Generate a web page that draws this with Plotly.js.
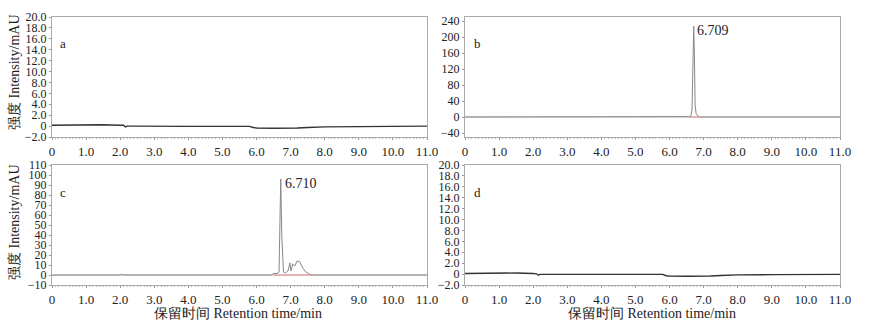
<!DOCTYPE html>
<html>
<head>
<meta charset="utf-8">
<script src="https://cdn.plot.ly/plotly-3.0.1.min.js"></script>
<style>html,body{margin:0;padding:0;background:#fff;}#chart{width:874px;height:332px;}</style>
</head>
<body>
<div id="chart"></div>
<script>
// ---- data ----
const timeA = [0, 0.5, 1.0, 1.5, 2.0, 2.1, 2.15, 2.2, 2.5, 3.0, 4.0, 5.0, 5.8, 5.9, 6.0, 6.5, 7.0, 7.2, 7.5, 8.0, 9.0, 10.0, 11.0];
const intensityA = [0.15, 0.2, 0.25, 0.25, 0.15, 0.15, -0.15, 0.0, 0.0, -0.05, -0.05, -0.05, -0.05, -0.25, -0.35, -0.4, -0.4, -0.35, -0.25, -0.15, -0.1, -0.05, 0.0];

const timeB = [0, 6.55, 6.62, 6.66, 6.69, 6.709, 6.73, 6.75, 6.78, 6.82, 6.86, 11.0];
const intensityB = [0, 0, 1, 20, 150, 227, 150, 30, 8, 3, 0, 0];
const baseTimeB = [6.6, 6.86];
const baseValB = [0, 0];

const timeC = [0, 2.0, 2.05, 2.1, 6.45, 6.49, 6.6, 6.66, 6.69, 6.71, 6.74, 6.79, 6.85, 6.92, 6.98, 7.01, 7.06, 7.12, 7.19, 7.27, 7.34, 7.43, 7.56, 7.6, 11.0];
const intensityC = [0, 0, 0.8, 0, 0, 1.5, 1.5, 3, 60, 96, 40, 3, 2, 4, 12, 4, 11, 9, 14, 13, 8, 3.5, 0.7, 0, 0];
const baseTimeC = [6.49, 7.6];
const baseValC = [0, 0];

const timeD = [0, 0.5, 1.0, 1.5, 2.0, 2.1, 2.15, 2.2, 2.5, 3.0, 4.0, 5.0, 5.8, 5.9, 6.0, 6.5, 7.0, 7.2, 7.5, 8.0, 9.0, 10.0, 11.0];
const intensityD = [0.1, 0.15, 0.2, 0.2, 0.1, 0.05, -0.2, -0.05, -0.05, -0.05, -0.05, -0.05, -0.05, -0.3, -0.35, -0.4, -0.4, -0.35, -0.25, -0.15, -0.1, -0.05, -0.05];

const xTickVals = [0, 1, 2, 3, 4, 5, 6, 7, 8, 9, 10, 11];
const xTickText = ["0", "1.0", "2.0", "3.0", "4.0", "5.0", "6.0", "7.0", "8.0", "9.0", "10.0", "11.0"];
const ySmallVals = [-2, 0, 2, 4, 6, 8, 10, 12, 14, 16, 18, 20];
const ySmallText = ["\u22122.0", "0", "2.0", "4.0", "6.0", "8.0", "10.0", "12.0", "14.0", "16.0", "18.0", "20.0"];
const yBVals = [-40, 0, 40, 80, 120, 160, 200, 240];
const yBText = ["\u221240", "0", "40", "80", "120", "160", "200", "240"];
const yCVals = [-10, 0, 10, 20, 30, 40, 50, 60, 70, 80, 90, 100, 110];
const yCText = ["\u221210", "0", "10", "20", "30", "40", "50", "60", "70", "80", "90", "100", "110"];

const panelLabels = ["a", "b", "c", "d"];
const peakLabelB = "6.709";
const peakLabelC = "6.710";
const yTitle = "强度 Intensity/mAU";
const xTitle = "保留时间 Retention time/min";

// ---- layout ----
const W = 874, H = 332;
const FONT = "'Liberation Serif', 'Times New Roman', serif";
const xTickFont = {family: FONT, size: 13, color: "#222"};
const yTickFont = {family: FONT, size: 12, color: "#222"};
const colL = [52 / W, 427 / W];
const colR = [465 / W, 840 / W];
const rowT = [1 - 137 / H, 1 - 17 / H];
const rowB = [1 - 285 / H, 1 - 165 / H];

function xa(dom, anchor) {
  return {domain: dom, anchor: anchor, range: [0, 11], tickvals: xTickVals, ticktext: xTickText,
    showline: true, mirror: true, linecolor: "#aaa", linewidth: 1, ticks: "outside", ticklen: 2,
    tickcolor: "#999", showgrid: false, zeroline: false, tickfont: xTickFont,
    minor: {ticks: "outside", ticklen: 1, dtick: 0.1, tickcolor: "#bbb", showgrid: false}, fixedrange: true};
}
function ya(dom, anchor, range, vals, text) {
  return {domain: dom, anchor: anchor, range: range, tickvals: vals, ticktext: text,
    showline: true, mirror: true, linecolor: "#aaa", linewidth: 1, ticks: "outside", ticklen: 2,
    tickcolor: "#999", showgrid: false, zeroline: false, tickfont: yTickFont, fixedrange: true};
}

const traces = [
  {x: timeA, y: intensityA, xaxis: "x", yaxis: "y", mode: "lines", line: {color: "#333", width: 1.4}},
  {x: [0, 11], y: [0, 0], xaxis: "x2", yaxis: "y2", mode: "lines", line: {color: "#bbb", width: 1}},
  {x: timeB, y: intensityB, xaxis: "x2", yaxis: "y2", mode: "lines", line: {color: "#888", width: 1}},
  {x: baseTimeB, y: baseValB, xaxis: "x2", yaxis: "y2", mode: "lines", line: {color: "#f08a8a", width: 1}},
  {x: [0, 11], y: [0, 0], xaxis: "x3", yaxis: "y3", mode: "lines", line: {color: "#bbb", width: 1}},
  {x: timeC, y: intensityC, xaxis: "x3", yaxis: "y3", mode: "lines", line: {color: "#888", width: 1}},
  {x: baseTimeC, y: baseValC, xaxis: "x3", yaxis: "y3", mode: "lines", line: {color: "#f08a8a", width: 1.2}},
  {x: timeD, y: intensityD, xaxis: "x4", yaxis: "y4", mode: "lines", line: {color: "#333", width: 1.4}}
];

const annFont = {family: FONT, size: 13, color: "#222"};
const peakFont = {family: FONT, size: 14, color: "#222"};
const titleFont = {family: FONT, size: 14, color: "#222"};
const annotations = [
  {text: panelLabels[0], xref: "paper", yref: "paper", x: 58 / W, y: 1 - 43 / H, xanchor: "left", yanchor: "middle", showarrow: false, font: annFont},
  {text: panelLabels[1], xref: "paper", yref: "paper", x: 472 / W, y: 1 - 43 / H, xanchor: "left", yanchor: "middle", showarrow: false, font: annFont},
  {text: panelLabels[2], xref: "paper", yref: "paper", x: 58 / W, y: 1 - 192 / H, xanchor: "left", yanchor: "middle", showarrow: false, font: annFont},
  {text: panelLabels[3], xref: "paper", yref: "paper", x: 472 / W, y: 1 - 192 / H, xanchor: "left", yanchor: "middle", showarrow: false, font: annFont},
  {text: peakLabelB, xref: "x2", yref: "y2", x: 6.709, y: 227, xanchor: "left", yanchor: "top", xshift: 1, yshift: 5, showarrow: false, font: peakFont},
  {text: peakLabelC, xref: "x3", yref: "y3", x: 6.71, y: 96, xanchor: "left", yanchor: "top", xshift: 2, yshift: 5, showarrow: false, font: peakFont},
  {text: yTitle, xref: "paper", yref: "paper", x: 14 / W, y: 1 - 72 / H, xanchor: "center", yanchor: "middle", textangle: -90, showarrow: false, font: titleFont},
  {text: yTitle, xref: "paper", yref: "paper", x: 14 / W, y: 1 - 222 / H, xanchor: "center", yanchor: "middle", textangle: -90, showarrow: false, font: titleFont},
  {text: xTitle, xref: "paper", yref: "paper", x: 238 / W, y: 1 - 313 / H, xanchor: "center", yanchor: "middle", showarrow: false, font: titleFont},
  {text: xTitle, xref: "paper", yref: "paper", x: 652 / W, y: 1 - 313 / H, xanchor: "center", yanchor: "middle", showarrow: false, font: titleFont}
];

const layout = {
  width: W, height: H, margin: {l: 0, r: 0, t: 0, b: 0},
  paper_bgcolor: "#fff", plot_bgcolor: "#fff", showlegend: false,
  xaxis: xa(colL, "y"), yaxis: ya(rowT, "x", [-2, 20], ySmallVals, ySmallText),
  xaxis2: xa(colR, "y2"), yaxis2: ya(rowT, "x2", [-50, 250], yBVals, yBText),
  xaxis3: xa(colL, "y3"), yaxis3: ya(rowB, "x3", [-10, 110], yCVals, yCText),
  xaxis4: xa(colR, "y4"), yaxis4: ya(rowB, "x4", [-2, 20], ySmallVals, ySmallText),
  annotations: annotations
};

Plotly.newPlot("chart", traces, layout, {staticPlot: true, displayModeBar: false});
</script>
</body>
</html>
